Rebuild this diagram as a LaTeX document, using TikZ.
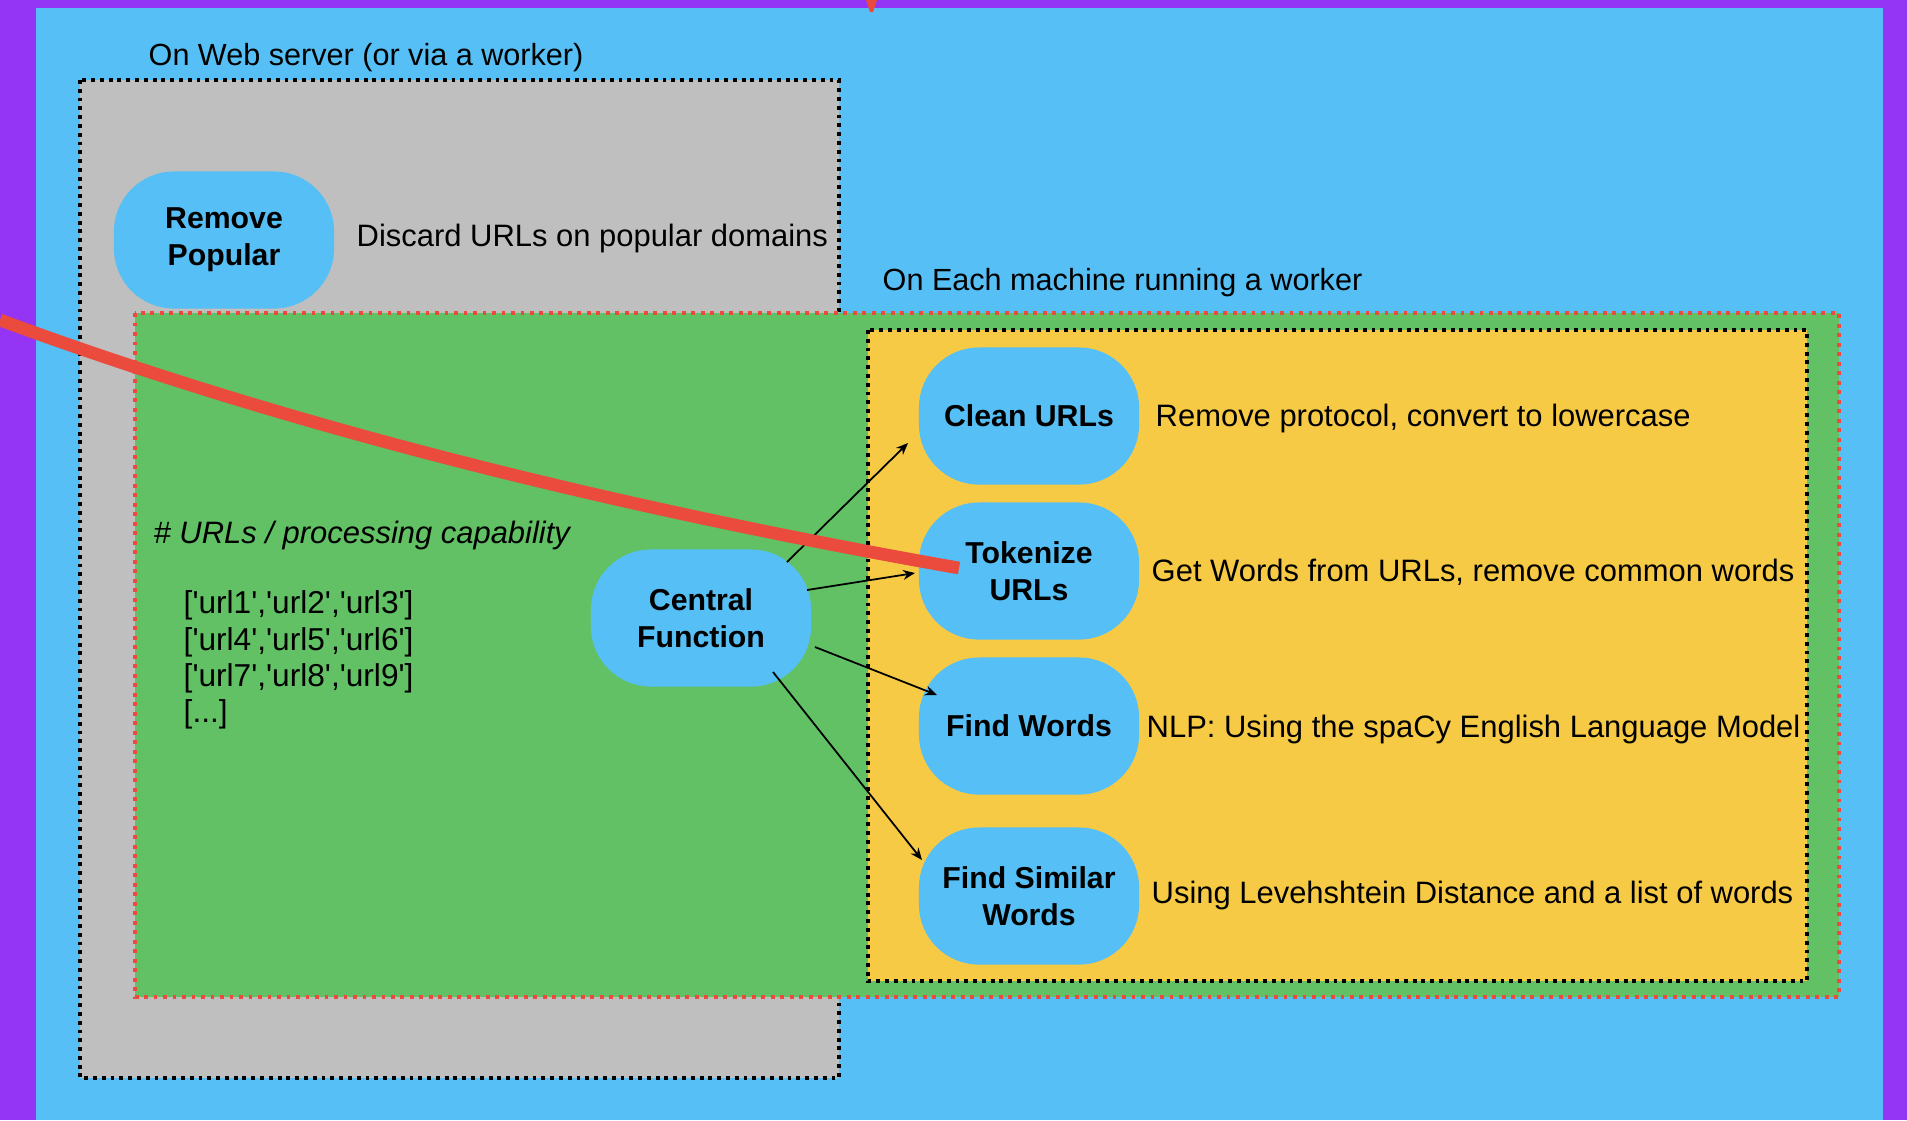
\documentclass[tikz,border=0pt]{standalone}
\usepackage{fontspec}
\setmainfont{Liberation Sans}
\newfontfamily\listfont{Liberation Sans}[Ligatures=TeXOff]
\usetikzlibrary{arrows.meta,calc}
\definecolor{bgpurple}{HTML}{9434F5}
\definecolor{bgblue}{HTML}{56BFF5}
\definecolor{nodeblue}{HTML}{56BFF5}
\definecolor{boxgray}{HTML}{BFBFBF}
\definecolor{boxgreen}{HTML}{61C164}
\definecolor{boxyellow}{HTML}{F7CA46}
\definecolor{dotred}{HTML}{EA4B3D}
\definecolor{linered}{HTML}{EA4B3D}
\begin{document}
\begin{tikzpicture}[x=0.01cm,y=-0.01cm,
  proc/.style={fill=nodeblue, rounded corners=0.6cm, minimum width=2.2cm, minimum height=1.37cm,
    align=center, inner sep=0pt, font=\bfseries\fontsize{8.6}{10.5}\selectfont},
  desc/.style={anchor=west, inner sep=0pt, font=\fontsize{8.8}{10.5}\selectfont},
  lbl/.style={anchor=west, inner sep=0pt, font=\fontsize{8.7}{10.5}\selectfont},
  blackdots/.style={draw=black, line width=1.2pt, dash pattern=on 1.1pt off 1.4pt},
  reddots/.style={draw=dotred, line width=1pt, dash pattern=on 1.1pt off 1.6pt},
  arr/.style={draw=black, line width=0.5pt, -{Stealth[length=3.4pt,width=2.8pt]}},
  redline/.style={draw=linered, line width=3.6pt},
]
\useasboundingbox (0,0) rectangle (1907,1120);
% backgrounds
\fill[bgpurple] (0,0) rectangle (1907,1120);
\fill[bgblue] (36,8) rectangle (1883,1120);
\fill[linered] (866,0) -- (877,0) -- (873,12) -- (870,12) -- cycle;
% web server box
\fill[boxgray] (80,80) rectangle (839,1078);
\draw[blackdots] (80,80) rectangle (839,1078);
\node[lbl] (weblbl) at (148,58) {On Web server (or via a worker)};
\node[proc] (pop) at (224,240) {Remove\\Popular};
\node[desc] (popd) at (356,238) {Discard URLs on popular domains};
% worker machine box
\fill[boxgreen] (135,313) rectangle (1839,997);
\draw[reddots] (135,313) rectangle (1839,997);
\node[lbl] (eachlbl) at (882,283) {On Each machine running a worker};
\fill[boxyellow] (868,330) rectangle (1807,981);
\draw[blackdots] (868,330) rectangle (1807,981);
% process nodes
\node[proc] (clean) at (1029,416) {Clean URLs};
\node[proc] (tok) at (1029,571) {Tokenize\\URLs};
\node[proc] (find) at (1029,726) {Find Words};
\node[proc] (sim) at (1029,896) {Find Similar\\Words};
\node[proc] (cf) at (701,618) {Central\\Function};
% descriptions
\node[desc] (cleand) at (1155,418) {Remove protocol, convert to lowercase};
\node[desc] (tokd) at (1151,572) {Get Words from URLs, remove common words};
\node[desc] (findd) at (1146,729) {NLP: Using the spaCy English Language Model};
\node[desc] (simd) at (1151,895) {Using Levehshtein Distance and a list of words};
% left texts
\node[desc, font=\itshape\fontsize{8.8}{10.5}\selectfont] (cap) at (153,535) {\# URLs / processing capability};
\node[anchor=west, inner sep=0pt, align=left, font=\listfont\fontsize{9}{10.3}\selectfont] (lst) at (183,660)
  {{[}'url1','url2','url3'{]}\\
   {[}'url4','url5','url6'{]}\\
   {[}'url7','url8','url9'{]}\\
   {[}...{]}};
% arrows
\draw[arr] ([shift={(86,-56)}]cf.center) -- ([shift={(-121,27)}]clean.center);
\draw[arr] ([shift={(106,-28)}]cf.center) -- ([shift={(-114,2)}]tok.center);
\draw[arr] ([shift={(114,29)}]cf.center) -- ([shift={(-92,-31)}]find.center);
\draw[arr] ([shift={(72,54)}]cf.center) -- ([shift={(-107,-36)}]sim.center);
% red line
\coordinate (rs) at (0,320);
\draw[redline] (rs) .. controls (271,420) and (590,503) .. ([shift={(-70,-3)}]tok.center);
\end{tikzpicture}
\end{document}
